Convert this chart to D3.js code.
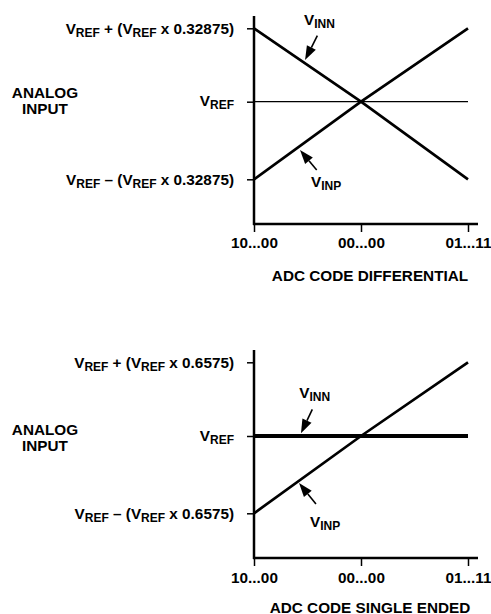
<!DOCTYPE html>
<html><head><meta charset="utf-8">
<script src="https://cdn.jsdelivr.net/npm/d3@7"></script>
<style>
html,body{margin:0;padding:0;background:#fff;}
svg{display:block;font-family:"Liberation Sans",Arial,Helvetica,sans-serif;font-weight:bold;}
</style></head>
<body>
<svg id="c" width="491" height="614"></svg>
<script>
// ---- data ----
const codeValues = [-1, 0, 1];
const codeLabels = ["10...00", "00...00", "01...11"];

const diffYTicks = [1, 0, -1];
const diffYLabels = ["V_{REF} + (V_{REF} x 0.32875)", "V_{REF}", "V_{REF} – (V_{REF} x 0.32875)"];
const diffVINP = [-1, 0, 1];
const diffVINN = [1, 0, -1];
const diffVREF = [0, 0, 0];
const diffTitle = "ADC CODE DIFFERENTIAL";

const seYTicks = [1, 0, -1];
const seYLabels = ["V_{REF} + (V_{REF} x 0.6575)", "V_{REF}", "V_{REF} – (V_{REF} x 0.6575)"];
const seVINP = [-1, 0, 1];
const seVINN = [0, 0, 0];
const seTitle = "ADC CODE SINGLE ENDED";

const yAxisTitle = ["ANALOG", "INPUT"];

// annotations (data units): label position, arrow tail, arrow tip
const diffNotes = [
  {text: "V_{INN}", lx: -0.533, ly: 1.045, tail: [-0.408, 0.899], tip: [-0.523, 0.568]},
  {text: "V_{INP}", lx: -0.467, ly: -1.095, tail: [-0.414, -0.880], tip: [-0.570, -0.622]}
];
const seNotes = [
  {text: "V_{INN}", lx: -0.577, ly: 0.516, tail: [-0.455, 0.362], tip: [-0.561, 0.037]},
  {text: "V_{INP}", lx: -0.477, ly: -1.177, tail: [-0.421, -0.880], tip: [-0.579, -0.608]}
];

// ---- drawing ----
const svg = d3.select("#c");
const MAIN = 15.3, SUB = 12;

function richText(sel, str) {
  const parts = str.split(/(_\{[^}]*\})/).filter(s => s.length);
  let prevSub = false;
  parts.forEach(p => {
    const isSub = p.startsWith("_{");
    const t = sel.append("tspan").text(isSub ? p.slice(2, -1) : p)
      .style("font-size", (isSub ? SUB : MAIN) + "px");
    if (isSub && !prevSub) t.attr("dy", 3);
    if (!isSub && prevSub) t.attr("dy", -3);
    prevSub = isSub;
  });
}

function panel(cfg) {
  const g = svg.append("g");
  const x = d3.scaleLinear().domain([-1, 1]).range([254, 468]);
  const y = d3.scaleLinear().domain([-1, 0, 1]).range(cfg.yRange);
  const axisY = cfg.axisY;

  // x ticks
  const xa = g.append("g").attr("transform", `translate(0,${axisY})`)
    .call(d3.axisBottom(x).tickValues(codeValues).tickFormat((d, i) => codeLabels[i]).tickSize(8));
  xa.select(".domain").remove();
  xa.selectAll(".tick line").attr("stroke", "#000").attr("stroke-width", 1.5);
  xa.selectAll(".tick text").attr("y", cfg.xLabOff).attr("dy", 0).attr("fill", "#000")
    .style("font-size", MAIN + "px").style("font-family", "inherit").style("font-weight", "bold");

  // y ticks
  const ya = g.append("g").attr("transform", `translate(254,0)`)
    .call(d3.axisLeft(y).tickValues(cfg.yTicks).tickFormat("").tickSize(7));
  ya.select(".domain").remove();
  ya.selectAll(".tick line").attr("stroke", "#000").attr("stroke-width", 1.5);
  cfg.yTicks.forEach((v, i) => {
    const t = g.append("text").attr("x", 234).attr("y", y(v) + (v === 0 ? 4.5 : 6)).attr("text-anchor", "end");
    richText(t, cfg.yLabels[i]);
  });

  // axis lines
  g.append("line").attr("x1", 254).attr("x2", 254).attr("y1", cfg.axisTop).attr("y2", axisY + 1)
    .attr("stroke", "#000").attr("stroke-width", 2.5);
  g.append("line").attr("x1", 253).attr("x2", 478).attr("y1", axisY).attr("y2", axisY)
    .attr("stroke", "#000").attr("stroke-width", 2.5);

  // series
  const line = d3.line().x((d, i) => x(codeValues[i])).y(d => y(d));
  cfg.series.forEach(s => {
    g.append("path").datum(s.values).attr("d", line).attr("fill", "none")
      .attr("stroke", "#000").attr("stroke-width", s.w);
  });

  // axis titles
  g.append("text").attr("x", 370).attr("y", cfg.titleY).attr("text-anchor", "middle")
    .style("font-size", MAIN + "px").text(cfg.title);
  yAxisTitle.forEach((s, i) => {
    g.append("text").attr("x", 45).attr("y", cfg.ytitleY + i * 15.5).attr("text-anchor", "middle")
      .style("font-size", MAIN + "px").text(s);
  });

  // annotations
  cfg.notes.forEach(n => {
    const t = g.append("text").attr("x", x(n.lx)).attr("y", y(n.ly));
    richText(t, n.text);
    const x1 = x(n.tail[0]), y1 = y(n.tail[1]), x2 = x(n.tip[0]), y2 = y(n.tip[1]);
    const ang = Math.atan2(y2 - y1, x2 - x1), L = 14, W = 5;
    const bx = x2 - L * Math.cos(ang), by = y2 - L * Math.sin(ang);
    g.append("line").attr("x1", x1).attr("y1", y1).attr("x2", bx).attr("y2", by)
      .attr("stroke", "#000").attr("stroke-width", 1.6);
    const px = -Math.sin(ang) * W, py = Math.cos(ang) * W;
    g.append("path").attr("d", `M${x2},${y2}L${bx + px},${by + py}L${bx - px},${by - py}Z`).attr("fill", "#000");
  });
}

panel({
  yRange: [179.3, 101.7, 28.3], axisY: 224, axisTop: 16, xLabOff: 24,
  yTicks: diffYTicks, yLabels: diffYLabels,
  series: [{values: diffVREF, w: 1.3}, {values: diffVINP, w: 2.7}, {values: diffVINN, w: 2.7}],
  title: diffTitle, titleY: 281, ytitleY: 98, notes: diffNotes
});
panel({
  yRange: [513.3, 436, 362.3], axisY: 558, axisTop: 350, xLabOff: 25,
  yTicks: seYTicks, yLabels: seYLabels,
  series: [{values: seVINN, w: 4}, {values: seVINP, w: 2.7}],
  title: seTitle, titleY: 612.5, ytitleY: 435, notes: seNotes
});
</script>
</body></html>
